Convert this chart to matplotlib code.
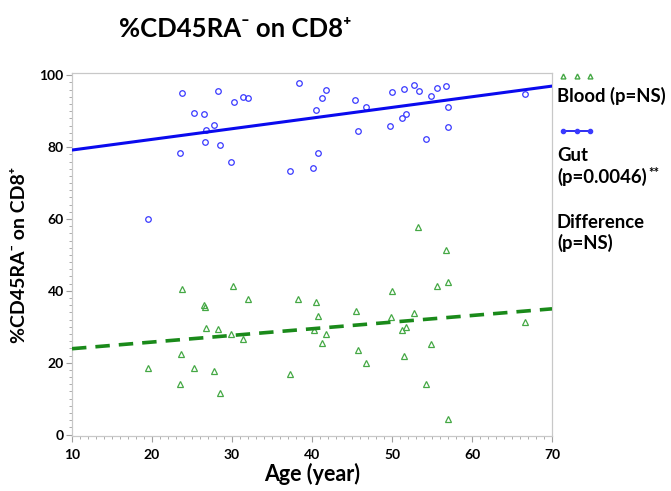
import matplotlib
matplotlib.use("Agg")
import matplotlib.pyplot as plt
import numpy as np
from matplotlib.lines import Line2D
from matplotlib.ticker import MultipleLocator

plt.rcParams['font.family'] = ['Lato', 'DejaVu Sans']

# Gut (blue circles)
gut_age = [23.8, 28.2, 38.4, 25.3, 26.5, 30.2, 31.4, 32.0, 27.7, 26.7, 26.6, 28.5, 23.5,
           29.9, 37.3, 19.5, 41.7, 41.25, 40.5, 45.4, 46.7, 45.7, 50.0, 51.5, 52.7, 53.4,
           55.6, 56.8, 54.9, 57.0, 51.8, 51.3, 49.8, 57.0, 54.2, 40.7, 40.1, 66.6]
gut_val = [95.2, 95.6, 97.8, 89.5, 89.3, 92.5, 94.0, 93.7, 86.2, 84.8, 81.5, 80.7, 78.3,
           75.8, 73.3, 60.0, 95.9, 93.6, 90.3, 93.0, 91.2, 84.5, 95.3, 96.1, 97.2, 95.7,
           96.5, 97.1, 94.2, 91.3, 89.1, 88.0, 86.0, 85.5, 82.4, 78.3, 74.1, 94.8]

# Blood (green triangles)
blood_age = [23.8, 30.1, 32.0, 38.3, 26.5, 26.6, 26.7, 28.2, 29.9, 31.4, 23.6, 19.5, 25.3,
             27.7, 23.5, 28.5, 37.3, 53.3, 56.8, 55.6, 57.0, 50.0, 40.5, 40.7, 45.5, 49.9,
             52.7, 40.2, 41.7, 41.25, 51.3, 51.75, 45.7, 46.7, 51.5, 54.9, 54.2, 57.0, 66.6]
blood_val = [40.4, 41.4, 37.8, 37.7, 36.2, 35.6, 29.8, 29.3, 28.1, 26.5, 22.3, 18.4, 18.6,
             17.8, 14.2, 11.5, 16.9, 57.8, 51.5, 41.3, 42.4, 40.0, 36.8, 33.0, 34.4, 32.8,
             33.9, 29.0, 27.9, 25.4, 29.1, 29.9, 23.5, 19.8, 22.0, 25.1, 14.2, 4.3, 31.2]

# Fit lines (endpoints)
fit_x = [10, 70]
gut_fit = [79.2, 97.0]
blood_fit = [23.9, 35.0]

blue = '#3a3aff'
blue_line = '#0a0aee'
green = '#45a845'
green_line = '#1a8a1a'

fig = plt.figure(figsize=(6.71, 4.91), dpi=100)
ax = fig.add_axes([0.1073, 0.112, 0.7154, 0.739])

ax.plot(gut_age, gut_val, 'o', ms=4.0, mfc='none', mec=blue, mew=0.9, zorder=3)
ax.plot(blood_age, blood_val, '^', ms=4.0, mfc='none', mec=green, mew=0.9, zorder=3)
ax.plot(fit_x, gut_fit, '-', color=blue_line, lw=2.2, zorder=4)
ax.plot(fit_x, blood_fit, '--', color=green_line, lw=2.6, dashes=(4, 2.5), zorder=4)

ax.set_xlim(10, 70)
ax.set_ylim(-0.4, 100.6)
ax.xaxis.set_major_locator(MultipleLocator(10))
ax.xaxis.set_minor_locator(MultipleLocator(1))
ax.yaxis.set_major_locator(MultipleLocator(20))
ax.yaxis.set_minor_locator(MultipleLocator(2))
for s in ax.spines.values():
    s.set_color('#c8c8c8')
    s.set_linewidth(0.9)
ax.tick_params(which='both', direction='out', color='#a0a0a0')
ax.tick_params(which='major', length=4, width=0.8, labelsize=10)
ax.tick_params(axis='x', which='major', pad=5)
ax.tick_params(axis='y', which='major', pad=2)
ax.tick_params(which='minor', length=2.5, width=0.6)
for lab in ax.get_xticklabels() + ax.get_yticklabels():
    lab.set_fontweight('bold')

ax.set_xlabel('Age (year)', fontsize=15.5, fontweight='bold', labelpad=2)
ax.set_ylabel('%CD45RA\u207b on CD8\u207a', fontsize=14, fontweight='bold', labelpad=8)

fig.text(0.351, 0.941, '%CD45RA\u207b on CD8\u207a', fontsize=18.5, fontweight='bold',
         ha='center', va='center')

# Legend-like annotations on the right
W, H = 671, 491
def fx(px):
    return px / W
def fy(py):
    return 1 - py / H

fig.add_artist(Line2D([fx(563), fx(577), fx(590)], [fy(76)] * 3, ls='none', marker='^',
                      ms=3.5, mfc='none', mec=green, mew=1.0, transform=fig.transFigure))
fig.add_artist(Line2D([fx(563), fx(577), fx(590)], [fy(131)] * 3, ls='-', color=blue_line,
                      lw=1.2, marker='o', ms=3.0, mfc=blue, mec=blue, transform=fig.transFigure))

tk = dict(fontsize=13.3, fontweight='bold', ha='left', va='center')
fig.text(fx(557), fy(96), 'Blood (p=NS)', **tk)
fig.text(fx(557), fy(156), 'Gut', **tk)
fig.text(fx(557), fy(177), '(p=0.0046)', **tk)
fig.text(fx(648), fy(173), '**', fontsize=9.5, fontweight='bold', ha='left', va='center')
fig.text(fx(557), fy(222), 'Difference', **tk)
fig.text(fx(557), fy(243), '(p=NS)', **tk)

fig.savefig('out.png', dpi=100)
